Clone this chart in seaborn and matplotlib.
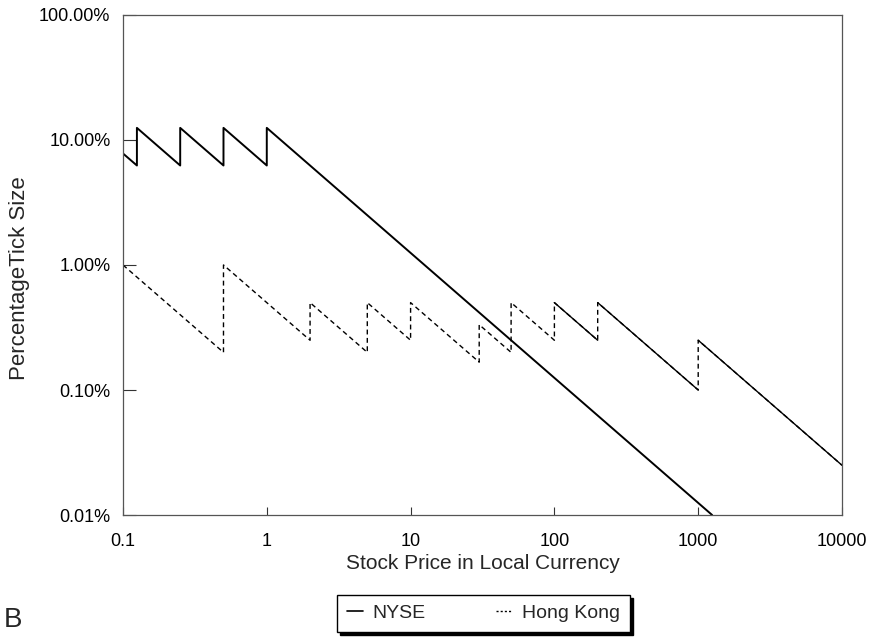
""" Percentage tick size against stock price, NYSE vs Hong Kong """
import matplotlib

matplotlib.use("Agg")
import matplotlib.pyplot as plt
import matplotlib.ticker as mticker
from matplotlib.lines import Line2D
import seaborn as sns

# Breakpoints (price in local currency, tick size in %)
nyse_price = [0.1, 0.125, 0.125, 0.25, 0.25, 0.5, 0.5, 1, 1, 1250]
nyse_pct = [7.8, 6.25, 12.5, 6.25, 12.5, 6.25, 12.5, 6.25, 12.5, 0.01]

hk_price = [0.1, 0.5, 0.5, 2, 2, 5, 5, 10, 10, 30, 30, 50, 50,
            100, 100, 200, 200, 1000, 1000, 10000]
hk_pct = [1.0, 0.2, 1.0, 0.25, 0.5, 0.2, 0.5, 0.25, 0.5, 0.167, 0.333, 0.2, 0.5,
          0.25, 0.5, 0.25, 0.5, 0.1, 0.25, 0.025]

x_ticks = [0.1, 1, 10, 100, 1000, 10000]
x_tick_labels = ["0.1", "1", "10", "100", "1000", "10000"]
y_ticks = [0.01, 0.1, 1, 10, 100]

sns.set_style("ticks")
plt.rcParams["font.family"] = ["Liberation Sans", "DejaVu Sans"]

fig = plt.figure(figsize=(8.74, 6.37), dpi=100)
ax = fig.add_axes([0.1407, 0.1915, 0.8227, 0.785])

sns.lineplot(x=nyse_price, y=nyse_pct, sort=False, estimator=None,
             color="black", linewidth=1.4, ax=ax)
sns.lineplot(x=hk_price, y=hk_pct, sort=False, estimator=None,
             color="black", linewidth=1.0, linestyle=(0, (3.5, 2.5)), ax=ax)

# the printed diagonals above 100 come out solid in the original
tail_x = hk_price[14:]
tail_y = hk_pct[14:]
tail_units = [i // 2 for i in range(len(tail_x))]
sns.lineplot(x=tail_x, y=tail_y, units=tail_units, sort=False, estimator=None,
             color="black", linewidth=1.0, ax=ax)

ax.set_xscale("log")
ax.set_yscale("log")
ax.set_xlim(0.1, 10000)
ax.set_ylim(0.01, 100)
ax.set_xticks(x_ticks)
ax.set_xticklabels(x_tick_labels)
ax.set_yticks(y_ticks)
ax.yaxis.set_major_formatter(mticker.FuncFormatter(lambda v, p: f"{v:.2f}%"))
ax.xaxis.set_minor_locator(mticker.NullLocator())
ax.yaxis.set_minor_locator(mticker.NullLocator())
ax.tick_params(axis="both", direction="in", width=0.8,
               labelsize=13, colors="#333333", labelcolor="black")
ax.tick_params(axis="y", length=9, pad=9)
ax.tick_params(axis="x", length=6, pad=13)

for spine in ax.spines.values():
    spine.set_visible(True)
    spine.set_color("#555555")
    spine.set_linewidth(0.9)

ax.set_xlabel("Stock Price in Local Currency", fontsize=15, labelpad=3)
ax.set_ylabel("PercentageTick Size", fontsize=16)
ax.yaxis.set_label_coords(-0.129, 0.474)

handles = [
    Line2D([], [], color="black", linewidth=1.2),
    Line2D([], [], color="black", linewidth=1.0, linestyle=(0, (1.5, 1.5))),
]
fig.legend(handles, ["NYSE", "Hong Kong"], loc="upper center",
           bbox_to_anchor=(0.553, 0.066), borderaxespad=0, ncol=2,
           fontsize=14, frameon=True, fancybox=False, edgecolor="black",
           shadow={"color": "black", "alpha": 1.0},
           handlelength=0.85, handletextpad=0.5, columnspacing=3.6,
           borderpad=0.5)

fig.text(0.004, 0.006, "B", fontsize=20, va="bottom")

fig.savefig("out.png", dpi=100)
